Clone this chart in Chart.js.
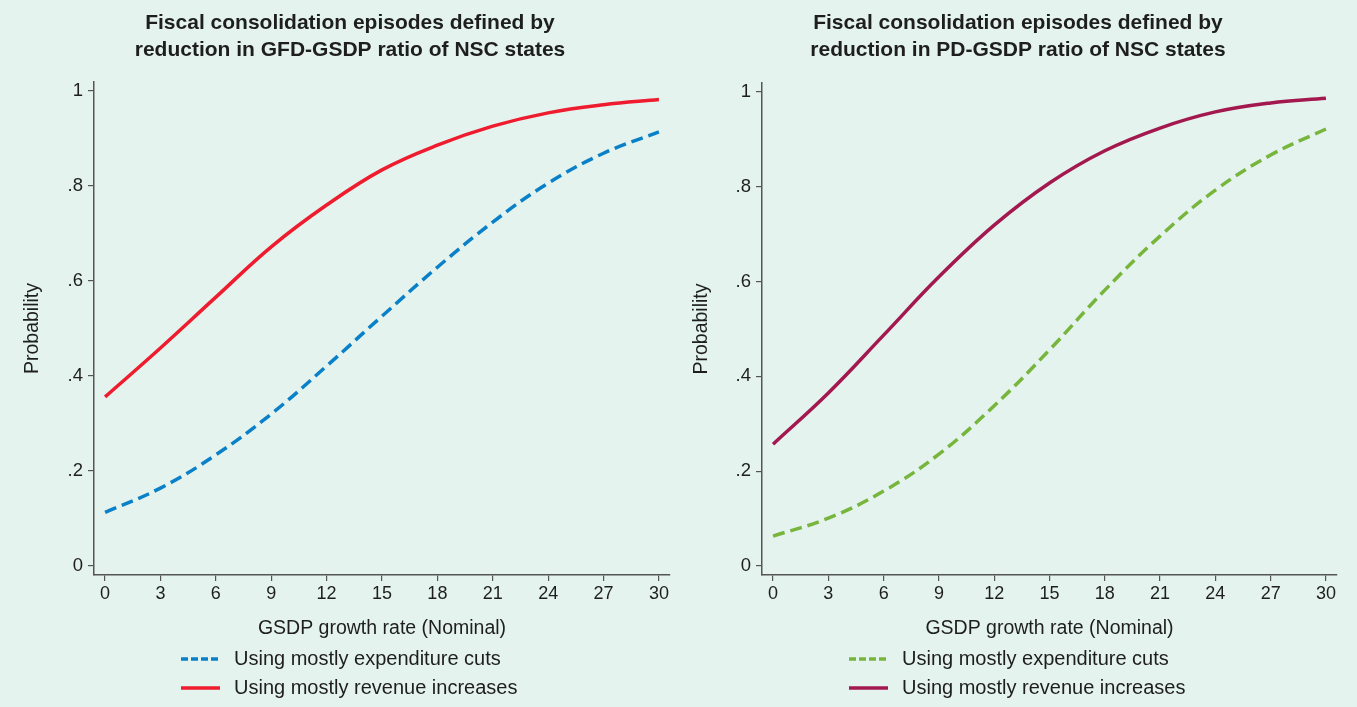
<!DOCTYPE html>
<html>
<head>
<meta charset="utf-8">
<script src="https://cdn.jsdelivr.net/npm/chart.js@4"></script>
<style>
  html, body { margin: 0; padding: 0; background: #e4f3ee; }
  body { width: 1357px; height: 707px; position: relative; overflow: hidden; }
  .panel { position: absolute; top: 0; height: 707px; }
  #left { left: 0; width: 680px; }
  #right { left: 680px; width: 677px; }
</style>
</head>
<body>
<div class="panel" id="left"><canvas id="gfd-chart"></canvas></div>
<div class="panel" id="right"><canvas id="pd-chart"></canvas></div>
<script>
// GSDP growth rate (nominal) at which probabilities were read
const growthRate = [0, 3, 6, 9, 12, 15, 18, 21, 24, 27, 30];

// GFD-GSDP panel
const gfdExpenditure = [0.113, 0.164, 0.234, 0.320, 0.421, 0.526, 0.629, 0.724, 0.806, 0.869, 0.914];
const gfdRevenue = [0.356, 0.459, 0.566, 0.672, 0.760, 0.834, 0.886, 0.926, 0.954, 0.971, 0.982];

// PD-GSDP panel
const pdExpenditure = [0.063, 0.101, 0.158, 0.236, 0.338, 0.456, 0.582, 0.696, 0.793, 0.867, 0.922];
const pdRevenue = [0.257, 0.365, 0.487, 0.610, 0.719, 0.808, 0.876, 0.924, 0.958, 0.977, 0.987];

const yTickValues = [0, 0.2, 0.4, 0.6, 0.8, 1];
const yTickLabels = ['0', '.2', '.4', '.6', '.8', '1'];

const FONT = '"Liberation Sans", Arial, sans-serif';
const INK = '#1e1e1e';
const AXIS = '#555555';

function points(ys) {
  return growthRate.map((x, i) => ({ x: x, y: ys[i] }));
}

// two legend rows stacked under the x axis title
const stackedLegend = {
  id: 'stackedLegend',
  afterDraw(chart) {
    const ctx = chart.ctx;
    const x0 = chart.chartArea.left + 87;
    const base = chart.scales.x.bottom;
    ctx.save();
    chart.data.datasets.forEach((ds, i) => {
      const y = base + 14 + i * 29;
      ctx.beginPath();
      ctx.strokeStyle = ds.borderColor;
      ctx.lineWidth = ds.borderWidth;
      ctx.setLineDash(ds.legendDash || []);
      ctx.moveTo(x0, y);
      ctx.lineTo(x0 + 39, y);
      ctx.stroke();
      ctx.setLineDash([]);
      ctx.fillStyle = INK;
      ctx.font = '20px ' + FONT;
      ctx.textBaseline = 'middle';
      ctx.textAlign = 'left';
      ctx.fillText(ds.label, x0 + 53, y);
    });
    ctx.restore();
  }
};

function makeChart(id, title, exp, rev, expColor, revColor, pad) {
  const ctx = document.getElementById(id);
  return new Chart(ctx, {
    type: 'line',
    data: {
      datasets: [{
        label: 'Using mostly expenditure cuts',
        data: points(exp),
        borderColor: expColor,
        borderWidth: 3.5,
        borderDash: [12, 6],
        legendDash: [7, 3],
        pointRadius: 0,
        tension: 0.4,
        fill: false
      }, {
        label: 'Using mostly revenue increases',
        data: points(rev),
        borderColor: revColor,
        borderWidth: 3.5,
        pointRadius: 0,
        tension: 0.4,
        fill: false
      }]
    },
    options: {
      responsive: true,
      maintainAspectRatio: false,
      animation: false,
      layout: { padding: { left: pad.left, right: pad.right, top: 0, bottom: 62 } },
      plugins: {
        legend: { display: false },
        tooltip: { enabled: false },
        title: {
          display: true,
          text: title,
          color: INK,
          font: { family: FONT, size: 21, weight: 'bold', lineHeight: 27 / 21 },
          padding: { top: 9.5, bottom: pad.titleBottom }
        }
      },
      scales: {
        x: {
          type: 'linear',
          min: -0.6,
          max: 30.6,
          afterBuildTicks: s => { s.ticks = growthRate.map(v => ({ value: v })); },
          afterFit: s => { s.height = 70; },
          ticks: { color: INK, font: { family: FONT, size: 18 }, padding: 2.5, maxRotation: 0, autoSkip: false },
          grid: { display: true, drawOnChartArea: false, color: AXIS, tickLength: 6, lineWidth: 1.2 },
          border: { display: true, color: AXIS, width: 1.5 },
          title: {
            display: true,
            text: 'GSDP growth rate (Nominal)',
            color: INK,
            font: { family: FONT, size: 19.5 },
            padding: { top: 0, bottom: 4.3 }
          }
        },
        y: {
          min: -0.019,
          max: 1.019,
          afterBuildTicks: s => { s.ticks = yTickValues.map(v => ({ value: v })); },
          afterFit: s => { s.width = pad.yWidth; },
          ticks: {
            color: INK,
            font: { family: FONT, size: 18.5 },
            padding: 5,
            callback: v => yTickLabels[yTickValues.indexOf(v)]
          },
          grid: { display: true, drawOnChartArea: false, color: AXIS, tickLength: 6, lineWidth: 1.2 },
          border: { display: true, color: AXIS, width: 1.5 },
          title: {
            display: true,
            text: 'Probability',
            color: INK,
            font: { family: FONT, size: 19.5 },
            padding: { top: -8.7, bottom: 0 }
          }
        }
      }
    },
    plugins: [stackedLegend]
  });
}

makeChart('gfd-chart',
  ['Fiscal consolidation episodes defined by', 'reduction in GFD-GSDP ratio of NSC states'],
  gfdExpenditure, gfdRevenue, '#0a80c8', '#ee1c2e',
  { left: 30, right: 10, yWidth: 64, titleBottom: 18.5 });

makeChart('pd-chart',
  ['Fiscal consolidation episodes defined by', 'reduction in PD-GSDP ratio of NSC states'],
  pdExpenditure, pdRevenue, '#77b53c', '#a3184f',
  { left: 19, right: 20, yWidth: 63, titleBottom: 19.5 });
</script>
</body>
</html>
